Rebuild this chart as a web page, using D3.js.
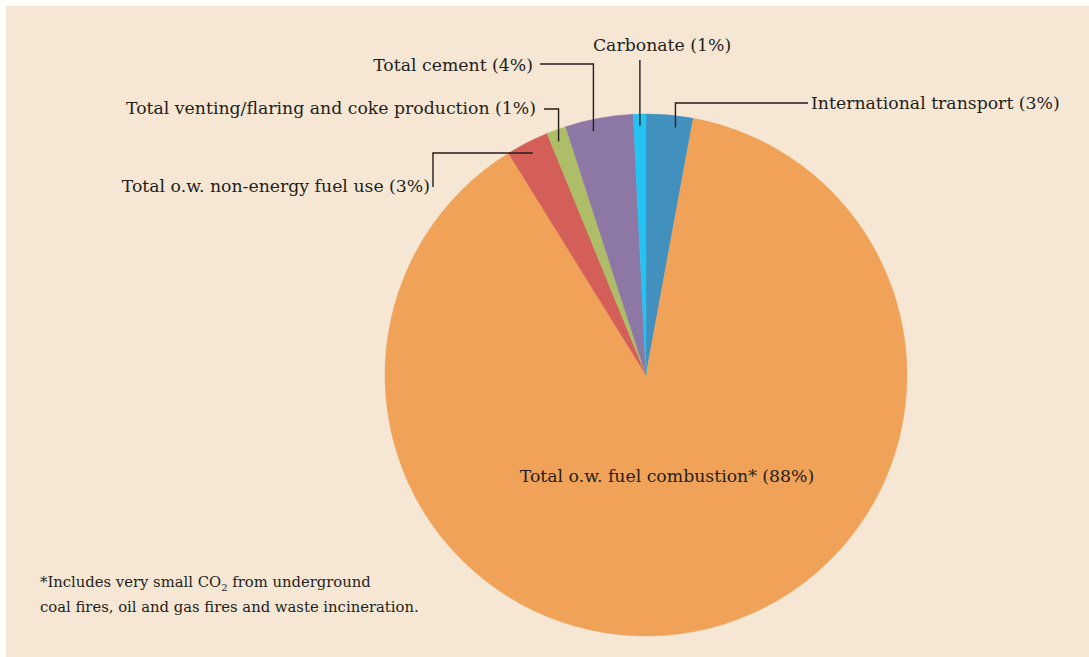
<!DOCTYPE html>
<html>
<head>
<meta charset="utf-8">
<script src="https://cdn.jsdelivr.net/npm/d3@7/dist/d3.min.js"></script>
<style>
  html, body { margin: 0; padding: 0; background: #ffffff; }
  svg { display: block; }
  text { font-family: "DejaVu Serif", "Liberation Serif", serif; fill: #231f1c; }
</style>
</head>
<body>
<svg id="chart" width="1089" height="657"></svg>
<script>
// ---- data ----
const categories = [
  "International transport",
  "Total o.w. fuel combustion*",
  "Total o.w. non-energy fuel use",
  "Total venting/flaring and coke production",
  "Total cement",
  "Carbonate"
];
const values = [2.9, 88.3, 2.64, 1.21, 4.2, 0.78];
const percentLabels = ["3%", "88%", "3%", "1%", "4%", "1%"];
const colors = ["#4290bd", "#f0a258", "#d45f58", "#adbd68", "#8c77a5", "#24c3f2"];
const footnote = [
  "*Includes very small CO|2| from underground",
  "coal fires, oil and gas fires and waste incineration."
];

// ---- layout ----
const W = 1089, H = 657;
const cx = 646, cy = 375, R = 261;
const labelLayout = [
  { type: "upRight", tx: 811, ty: 109, anchor: "start", ly: 103, lx: 808, shift: 0.15 },
  { type: "inside", tx: 667, ty: 482, anchor: "middle" },
  { type: "leftDown", tx: 430, ty: 192, anchor: "end", lx: 433, ly: 187, shift: 0 },
  { type: "upLeft", tx: 536, ty: 114, anchor: "end", ly: 109, lx: 544, shift: -0.1 },
  { type: "upLeft", tx: 533, ty: 71, anchor: "end", ly: 64, lx: 540, shift: -0.12 },
  { type: "up", tx: 662, ty: 51, anchor: "middle", ly: 60, shift: 0 }
];

const svg = d3.select("#chart");
svg.append("rect").attr("x", 6).attr("y", 6).attr("width", W).attr("height", H)
  .attr("fill", "#f6e6d4");

const data = categories.map((c, i) => ({ name: c, value: values[i], pct: percentLabels[i], color: colors[i], lay: labelLayout[i] }));

const pie = d3.pie().sort(null).value(d => d.value).startAngle(0).endAngle(2 * Math.PI);
const arcs = pie(data);
const arc = d3.arc().innerRadius(0).outerRadius(R);
const leaderR = R * 0.955;

const g = svg.append("g").attr("transform", `translate(${cx},${cy})`);
g.selectAll("path.slice").data(arcs).enter().append("path")
  .attr("class", "slice")
  .attr("d", arc)
  .attr("fill", d => d.data.color)
  .attr("stroke", d => d.data.color)
  .attr("stroke-width", 0.5);

const lines = svg.append("g").attr("fill", "none").attr("stroke", "#231f1c").attr("stroke-width", 1.4);
arcs.forEach(a => {
  const L = a.data.lay;
  const span = a.endAngle - a.startAngle;
  const ang = (a.startAngle + a.endAngle) / 2 + (L.shift || 0) * span;
  const x = cx + Math.sin(ang) * leaderR, y = cy - Math.cos(ang) * leaderR;
  let pts = null;
  if (L.type === "upRight" || L.type === "upLeft") {
    pts = [[x, y], [x, L.ly], [L.lx, L.ly]];
  } else if (L.type === "leftDown") {
    pts = [[x, y], [L.lx, y], [L.lx, L.ly]];
  } else if (L.type === "up") {
    pts = [[x, y], [x, L.ly]];
  }
  if (pts) lines.append("path").attr("d", d3.line()(pts));
  svg.append("text")
    .attr("x", L.tx).attr("y", L.ty)
    .attr("text-anchor", L.anchor)
    .attr("font-size", 17.3)
    .text(`${a.data.name} (${a.data.pct})`);
});

footnote.forEach((line, i) => {
  const t = svg.append("text").attr("x", 40).attr("y", 587 + i * 25).attr("font-size", 14.8);
  const parts = line.split("|");
  parts.forEach((p, j) => {
    const ts = t.append("tspan").text(p);
    if (j === 1) ts.attr("font-size", 10).attr("dy", 4);
    if (j === 2) ts.attr("dy", -4);
  });
});
</script>
</body>
</html>
